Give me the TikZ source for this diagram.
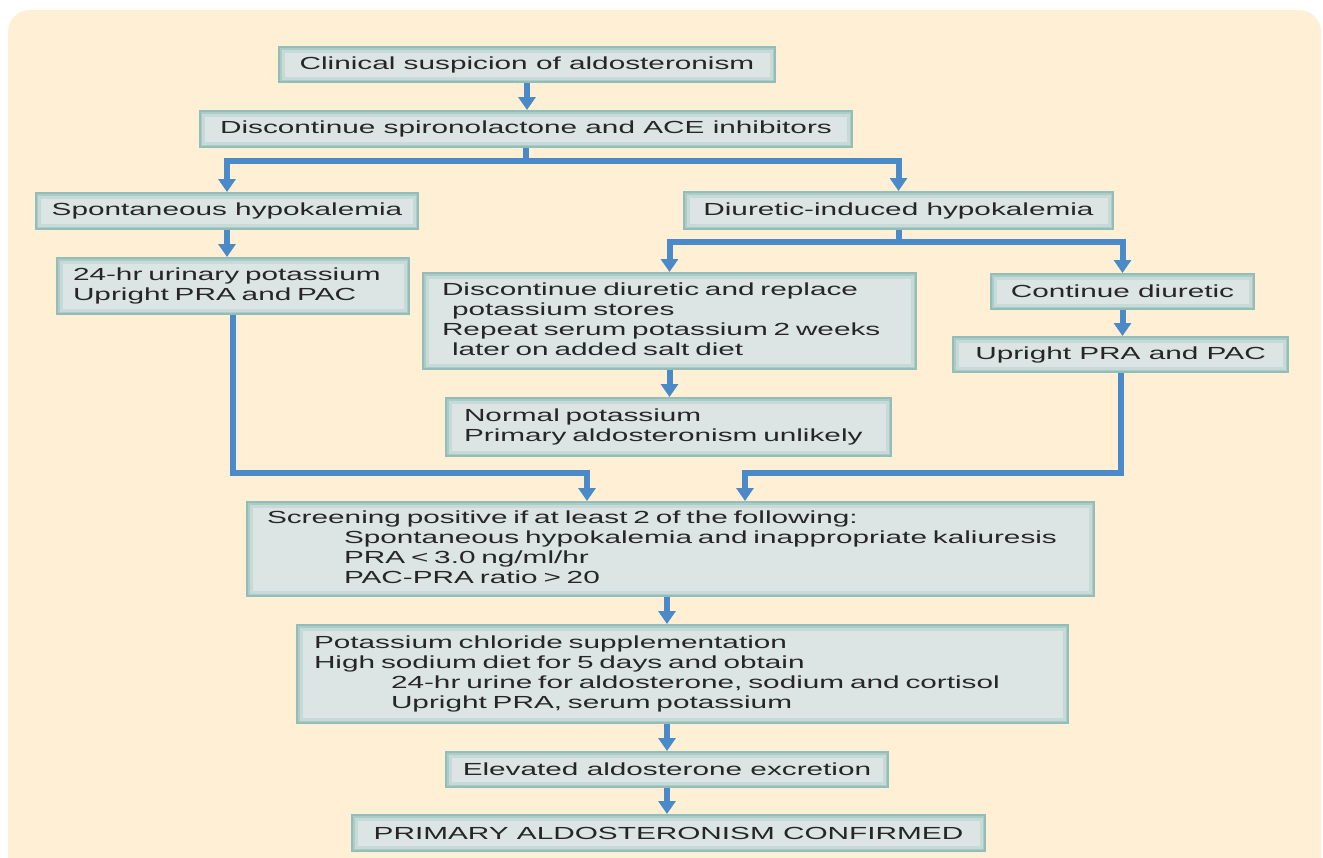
\documentclass[tikz,border=0pt]{standalone}
\usepackage{fontspec}
\setmainfont{Liberation Sans}[FakeStretch=1.7]
\usetikzlibrary{arrows.meta}
\definecolor{cream}{HTML}{FFF0D5}
\definecolor{boxfill}{HTML}{DCE5E4}
\definecolor{boxedge}{HTML}{92BDB9}
\definecolor{boxband}{HTML}{C6DBD8}
\definecolor{boxband2}{HTML}{ADCBC8}
\definecolor{arrowblue}{HTML}{4A8AC8}
\definecolor{txt}{HTML}{262626}
\begin{document}
\begin{tikzpicture}[x=1bp,y=-1bp,
  box/.style={fill=boxfill, draw=boxedge, line width=2bp, inner ysep=0bp, text=txt,
    font=\fontsize{17.5bp}{20bp}\selectfont,
    path picture={
      \draw[boxband, line width=11bp] (path picture bounding box.south west) rectangle (path picture bounding box.north east);
      \draw[boxband2, line width=5bp] (path picture bounding box.south west) rectangle (path picture bounding box.north east);
    }},
  link/.style={draw=arrowblue, line width=6bp},
  conn/.style={link, -{Triangle[width=17bp,length=13bp]}},
]
\useasboundingbox (0,0) rectangle (1323,857);
\clip (0,0) rectangle (1323,857);
\fill[white] (0,0) rectangle (1323,857);
\fill[cream, rounded corners=22bp] (8,10) rectangle (1321,900);

% boxes
\node[box, minimum width=496bp, minimum height=35bp] (b1) at (527,64.5) {Clinical suspicion of aldosteronism};
\node[box, minimum width=652bp, minimum height=36bp] (b2) at (526,129) {Discontinue spironolactone and ACE inhibitors};
\node[box, minimum width=382bp, minimum height=36bp] (b3) at (227,211) {Spontaneous hypokalemia};
\node[box, minimum width=429bp, minimum height=37bp] (b4) at (898.5,210.5) {Diuretic-induced hypokalemia};
\node[box, anchor=north west, minimum height=56bp, inner xsep=16bp, text width=320bp, align=left] (b5) at (56,257)
  {\begin{tabular}{@{}l@{}}24-hr urinary potassium\\Upright PRA and PAC\end{tabular}};
\node[box, anchor=north west, minimum height=96bp, inner xsep=19bp, text width=455bp, align=left] (b6) at (422,272)
  {\begin{tabular}{@{}l@{}}Discontinue diuretic and replace\\\hspace*{10bp}potassium stores\\Repeat serum potassium 2 weeks\\\hspace*{10bp}later on added salt diet\end{tabular}};
\node[box, minimum width=263bp, minimum height=35bp] (b7) at (1122.5,291.5) {Continue diuretic};
\node[box, minimum width=335bp, minimum height=35bp] (b8) at (1120.5,354.5) {Upright PRA and PAC};
\node[box, anchor=north west, minimum height=58bp, inner xsep=18bp, text width=409bp, align=left] (b9) at (445,397)
  {\begin{tabular}{@{}l@{}}Normal potassium\\Primary aldosteronism unlikely\end{tabular}};
\node[box, anchor=north west, minimum height=94bp, inner xsep=20bp, text width=807bp, align=left] (b10) at (246,501)
  {\begin{tabular}{@{}l@{}}Screening positive if at least 2 of the following:\\\hspace*{77bp}Spontaneous hypokalemia and inappropriate kaliuresis\\\hspace*{77bp}PRA < 3.0 ng/ml/hr\\\hspace*{77bp}PAC-PRA ratio > 20\end{tabular}};
\node[box, anchor=north west, minimum height=98bp, inner xsep=17bp, text width=737bp, align=left] (b11) at (296,624)
  {\begin{tabular}{@{}l@{}}Potassium chloride supplementation\\High sodium diet for 5 days and obtain\\\hspace*{77bp}24-hr urine for aldosterone, sodium and cortisol\\\hspace*{77bp}Upright PRA, serum potassium\end{tabular}};
\node[box, minimum width=442bp, minimum height=35bp] (b12) at (667,769.5) {Elevated aldosterone excretion};
\node[box, minimum width=633bp, minimum height=36bp] (b13) at (668.5,833) {PRIMARY ALDOSTERONISM CONFIRMED};

% connectors
\coordinate (j1) at (526,160.5);
\coordinate (j2) at (898.5,242);
\coordinate (c1) at (587,473);
\coordinate (c2) at (745,473);
\draw[conn] (b1.south) -- (b1.south |- b2.north);
\draw[link] (b2.south) -- (j1);
\draw[conn] (j1) -| (b3.north);
\draw[conn] (j1) -| (b4.north);
\draw[conn] (b3.south) -- (b3.south |- b5.north);
\draw[link] (b4.south) -- (j2);
\draw[conn] (j2) -| (b6.north);
\draw[conn] (j2) -| (b7.north);
\draw[conn] (b6.south) -- (b6.south |- b9.north);
\draw[conn] (b7.south) -- (b7.south |- b8.north);
\draw[conn] (b5.south) |- (c1) -- (c1 |- b10.north);
\draw[conn] (b8.south) |- (c2) -- (c2 |- b10.north);
\draw[conn] (b10.south -| b12.north) -- (b11.north -| b12.north);
\draw[conn] (b11.south -| b12.north) -- (b12.north);
\draw[conn] (b12.south) -- (b12.south |- b13.north);
\end{tikzpicture}
\end{document}
